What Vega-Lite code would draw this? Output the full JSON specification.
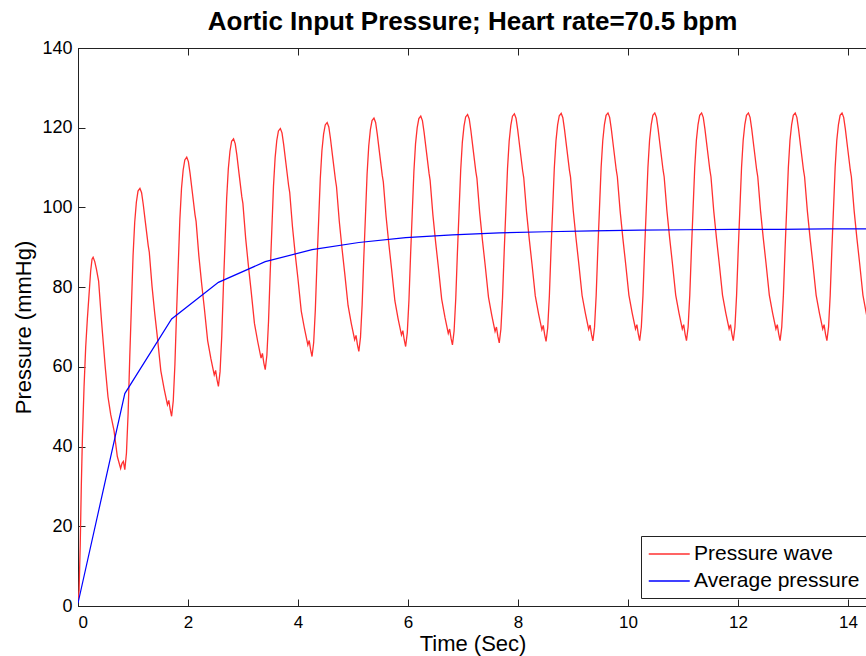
{
  "$schema": "https://vega.github.io/schema/vega-lite/v6.json",
  "autosize": {"type": "none"},
  "padding": {"left": 78, "top": 48, "right": 0, "bottom": 50},
  "width": 789,
  "height": 558,
  "background": "white",
  "config": {"view": {"stroke": "#222", "strokeWidth": 1}, "font": "Liberation Sans"},
  "title": {"text": "Aortic Input Pressure; Heart rate=70.5 bpm", "font": "Liberation Sans", "fontSize": 26, "fontWeight": "bold", "color": "#000", "anchor": "middle", "offset": 4},
  "datasets": {
    "wave": [
      {"t":0,"v":1},{"t":0.02,"v":4},{"t":0.04,"v":15},{"t":0.06,"v":30},{"t":0.08,"v":42},{"t":0.11,"v":55},{"t":0.14,"v":65},{"t":0.17,"v":72},{"t":0.2,"v":78},{"t":0.23,"v":84},{"t":0.255,"v":87},{"t":0.275,"v":87.5},
      {"t":0.305,"v":86.4},{"t":0.335,"v":84.5},{"t":0.375,"v":81.5},{"t":0.425,"v":72},{"t":0.445,"v":68.5},{"t":0.495,"v":60},{"t":0.545,"v":52.5},{"t":0.595,"v":48},{"t":0.655,"v":44},{"t":0.715,"v":37.5},{"t":0.775,"v":34.5},{"t":0.8,"v":35.8},{"t":0.825,"v":36.3},{"t":0.851,"v":34.2},
      {"t":0.881,"v":38.4},{"t":0.911,"v":48.3},{"t":0.941,"v":62.4},{"t":0.971,"v":75.2},{"t":1.001,"v":87.9},{"t":1.031,"v":96.3},{"t":1.061,"v":101.3},{"t":1.091,"v":104.1},{"t":1.126,"v":104.8},
      {"t":1.156,"v":103.7},{"t":1.186,"v":100.8},{"t":1.226,"v":96.2},{"t":1.276,"v":90.5},{"t":1.296,"v":88.8},{"t":1.346,"v":80.2},{"t":1.396,"v":73.3},{"t":1.446,"v":67.1},{"t":1.506,"v":59.0},{"t":1.566,"v":54.5},{"t":1.626,"v":50.5},{"t":1.651,"v":51.6},{"t":1.676,"v":49.3},{"t":1.702,"v":47.6},
      {"t":1.732,"v":51.5},{"t":1.762,"v":60.6},{"t":1.792,"v":73.6},{"t":1.822,"v":85.3},{"t":1.852,"v":97.0},{"t":1.882,"v":104.8},{"t":1.912,"v":109.4},{"t":1.942,"v":111.9},{"t":1.977,"v":112.6},
      {"t":2.007,"v":111.5},{"t":2.037,"v":108.6},{"t":2.077,"v":104.0},{"t":2.127,"v":98.2},{"t":2.147,"v":96.5},{"t":2.197,"v":87.9},{"t":2.247,"v":81.0},{"t":2.297,"v":74.7},{"t":2.357,"v":66.6},{"t":2.417,"v":62.0},{"t":2.477,"v":58.0},{"t":2.502,"v":59.1},{"t":2.527,"v":56.8},{"t":2.553,"v":55.1},
      {"t":2.583,"v":58.8},{"t":2.613,"v":67.5},{"t":2.643,"v":79.9},{"t":2.673,"v":91.1},{"t":2.703,"v":102.3},{"t":2.733,"v":109.7},{"t":2.763,"v":114.1},{"t":2.793,"v":116.6},{"t":2.828,"v":117.2},
      {"t":2.858,"v":116.0},{"t":2.888,"v":113.2},{"t":2.928,"v":108.5},{"t":2.978,"v":102.7},{"t":2.998,"v":101.0},{"t":3.048,"v":92.3},{"t":3.098,"v":85.4},{"t":3.148,"v":79.0},{"t":3.208,"v":70.9},{"t":3.268,"v":66.3},{"t":3.328,"v":62.2},{"t":3.353,"v":63.4},{"t":3.378,"v":61.0},{"t":3.404,"v":59.3},
      {"t":3.434,"v":62.9},{"t":3.464,"v":71.4},{"t":3.494,"v":83.5},{"t":3.524,"v":94.4},{"t":3.554,"v":105.3},{"t":3.584,"v":112.5},{"t":3.614,"v":116.8},{"t":3.644,"v":119.2},{"t":3.679,"v":119.8},
      {"t":3.709,"v":118.7},{"t":3.739,"v":115.8},{"t":3.779,"v":111.2},{"t":3.829,"v":105.5},{"t":3.849,"v":103.8},{"t":3.899,"v":95.2},{"t":3.949,"v":88.3},{"t":3.999,"v":82.1},{"t":4.059,"v":74.0},{"t":4.119,"v":69.5},{"t":4.179,"v":65.5},{"t":4.204,"v":66.6},{"t":4.229,"v":64.3},{"t":4.255,"v":62.6},
      {"t":4.285,"v":66.1},{"t":4.315,"v":74.3},{"t":4.345,"v":86.1},{"t":4.375,"v":96.6},{"t":4.405,"v":107.2},{"t":4.435,"v":114.3},{"t":4.465,"v":118.4},{"t":4.495,"v":120.7},{"t":4.53,"v":121.3},
      {"t":4.56,"v":120.2},{"t":4.59,"v":117.3},{"t":4.63,"v":112.7},{"t":4.68,"v":107.0},{"t":4.7,"v":105.2},{"t":4.75,"v":96.6},{"t":4.8,"v":89.7},{"t":4.85,"v":83.4},{"t":4.91,"v":75.4},{"t":4.97,"v":70.8},{"t":5.03,"v":66.8},{"t":5.055,"v":67.9},{"t":5.08,"v":65.6},{"t":5.106,"v":63.9},
      {"t":5.136,"v":67.4},{"t":5.166,"v":75.6},{"t":5.196,"v":87.3},{"t":5.226,"v":97.8},{"t":5.256,"v":108.4},{"t":5.286,"v":115.4},{"t":5.316,"v":119.5},{"t":5.346,"v":121.8},{"t":5.381,"v":122.4},
      {"t":5.411,"v":121.3},{"t":5.441,"v":118.4},{"t":5.481,"v":113.8},{"t":5.531,"v":108.1},{"t":5.551,"v":106.4},{"t":5.601,"v":97.8},{"t":5.651,"v":90.9},{"t":5.701,"v":84.6},{"t":5.761,"v":76.6},{"t":5.821,"v":72.0},{"t":5.881,"v":68.0},{"t":5.906,"v":69.1},{"t":5.931,"v":66.8},{"t":5.957,"v":65.1},
      {"t":5.987,"v":68.6},{"t":6.017,"v":76.7},{"t":6.047,"v":88.2},{"t":6.077,"v":98.6},{"t":6.107,"v":109.0},{"t":6.137,"v":116.0},{"t":6.167,"v":120.0},{"t":6.197,"v":122.3},{"t":6.232,"v":122.9},
      {"t":6.262,"v":121.8},{"t":6.292,"v":118.9},{"t":6.332,"v":114.3},{"t":6.382,"v":108.6},{"t":6.402,"v":106.8},{"t":6.452,"v":98.2},{"t":6.502,"v":91.3},{"t":6.552,"v":85.0},{"t":6.612,"v":77.0},{"t":6.672,"v":72.4},{"t":6.732,"v":68.4},{"t":6.757,"v":69.5},{"t":6.782,"v":67.2},{"t":6.808,"v":65.5},
      {"t":6.838,"v":69.0},{"t":6.868,"v":77.1},{"t":6.898,"v":88.6},{"t":6.928,"v":99.0},{"t":6.958,"v":109.4},{"t":6.988,"v":116.4},{"t":7.018,"v":120.4},{"t":7.048,"v":122.7},{"t":7.083,"v":123.3},
      {"t":7.113,"v":122.2},{"t":7.143,"v":119.3},{"t":7.183,"v":114.7},{"t":7.233,"v":109.0},{"t":7.253,"v":107.3},{"t":7.303,"v":98.7},{"t":7.353,"v":91.8},{"t":7.403,"v":85.5},{"t":7.463,"v":77.5},{"t":7.523,"v":72.9},{"t":7.583,"v":68.9},{"t":7.608,"v":70.0},{"t":7.633,"v":67.7},{"t":7.659,"v":66.0},
      {"t":7.689,"v":69.5},{"t":7.719,"v":77.5},{"t":7.749,"v":89.0},{"t":7.779,"v":99.4},{"t":7.809,"v":109.7},{"t":7.839,"v":116.6},{"t":7.869,"v":120.6},{"t":7.899,"v":122.9},{"t":7.934,"v":123.5},
      {"t":7.964,"v":122.4},{"t":7.994,"v":119.5},{"t":8.034,"v":114.9},{"t":8.084,"v":109.2},{"t":8.104,"v":107.5},{"t":8.154,"v":99.0},{"t":8.204,"v":92.1},{"t":8.254,"v":85.8},{"t":8.314,"v":77.8},{"t":8.374,"v":73.3},{"t":8.434,"v":69.3},{"t":8.459,"v":70.4},{"t":8.484,"v":68.1},{"t":8.51,"v":66.4},
      {"t":8.54,"v":69.8},{"t":8.57,"v":77.8},{"t":8.6,"v":89.3},{"t":8.63,"v":99.6},{"t":8.66,"v":109.9},{"t":8.69,"v":116.7},{"t":8.72,"v":120.7},{"t":8.75,"v":123.0},{"t":8.785,"v":123.6},
      {"t":8.815,"v":122.5},{"t":8.845,"v":119.6},{"t":8.885,"v":115.0},{"t":8.935,"v":109.3},{"t":8.955,"v":107.6},{"t":9.005,"v":99.1},{"t":9.055,"v":92.2},{"t":9.105,"v":85.9},{"t":9.165,"v":77.9},{"t":9.225,"v":73.4},{"t":9.285,"v":69.4},{"t":9.31,"v":70.5},{"t":9.335,"v":68.2},{"t":9.361,"v":66.5},
      {"t":9.391,"v":69.9},{"t":9.421,"v":77.9},{"t":9.451,"v":89.4},{"t":9.481,"v":99.7},{"t":9.511,"v":110.0},{"t":9.541,"v":116.8},{"t":9.571,"v":120.8},{"t":9.601,"v":123.1},{"t":9.636,"v":123.7},
      {"t":9.666,"v":122.6},{"t":9.696,"v":119.7},{"t":9.736,"v":115.1},{"t":9.786,"v":109.4},{"t":9.806,"v":107.7},{"t":9.856,"v":99.2},{"t":9.906,"v":92.3},{"t":9.956,"v":86.0},{"t":10.016,"v":78.0},{"t":10.076,"v":73.5},{"t":10.136,"v":69.5},{"t":10.161,"v":70.6},{"t":10.186,"v":68.3},{"t":10.212,"v":66.6},
      {"t":10.242,"v":70.0},{"t":10.272,"v":78.0},{"t":10.302,"v":89.4},{"t":10.332,"v":99.7},{"t":10.362,"v":110.0},{"t":10.392,"v":116.9},{"t":10.422,"v":120.8},{"t":10.452,"v":123.1},{"t":10.487,"v":123.7},
      {"t":10.517,"v":122.6},{"t":10.547,"v":119.7},{"t":10.587,"v":115.1},{"t":10.637,"v":109.4},{"t":10.657,"v":107.7},{"t":10.707,"v":99.2},{"t":10.757,"v":92.3},{"t":10.807,"v":86.0},{"t":10.867,"v":78.0},{"t":10.927,"v":73.5},{"t":10.987,"v":69.5},{"t":11.012,"v":70.6},{"t":11.037,"v":68.3},{"t":11.063,"v":66.6},
      {"t":11.093,"v":70.0},{"t":11.123,"v":78.0},{"t":11.153,"v":89.4},{"t":11.183,"v":99.7},{"t":11.213,"v":110.0},{"t":11.243,"v":116.9},{"t":11.273,"v":120.8},{"t":11.303,"v":123.1},{"t":11.338,"v":123.7},
      {"t":11.368,"v":122.6},{"t":11.398,"v":119.7},{"t":11.438,"v":115.1},{"t":11.488,"v":109.4},{"t":11.508,"v":107.7},{"t":11.558,"v":99.2},{"t":11.608,"v":92.3},{"t":11.658,"v":86.0},{"t":11.718,"v":78.0},{"t":11.778,"v":73.5},{"t":11.838,"v":69.5},{"t":11.863,"v":70.6},{"t":11.888,"v":68.3},{"t":11.914,"v":66.6},
      {"t":11.944,"v":70.0},{"t":11.974,"v":78.0},{"t":12.004,"v":89.4},{"t":12.034,"v":99.7},{"t":12.064,"v":110.0},{"t":12.094,"v":116.9},{"t":12.124,"v":120.8},{"t":12.154,"v":123.1},{"t":12.189,"v":123.7},
      {"t":12.219,"v":122.6},{"t":12.249,"v":119.7},{"t":12.289,"v":115.1},{"t":12.339,"v":109.4},{"t":12.359,"v":107.7},{"t":12.409,"v":99.2},{"t":12.459,"v":92.3},{"t":12.509,"v":86.0},{"t":12.569,"v":78.0},{"t":12.629,"v":73.5},{"t":12.689,"v":69.5},{"t":12.714,"v":70.6},{"t":12.739,"v":68.3},{"t":12.765,"v":66.6},
      {"t":12.795,"v":70.0},{"t":12.825,"v":78.0},{"t":12.855,"v":89.4},{"t":12.885,"v":99.7},{"t":12.915,"v":110.0},{"t":12.945,"v":116.9},{"t":12.975,"v":120.8},{"t":13.005,"v":123.1},{"t":13.04,"v":123.7},
      {"t":13.07,"v":122.6},{"t":13.1,"v":119.7},{"t":13.14,"v":115.1},{"t":13.19,"v":109.4},{"t":13.21,"v":107.7},{"t":13.26,"v":99.2},{"t":13.31,"v":92.3},{"t":13.36,"v":86.0},{"t":13.42,"v":78.0},{"t":13.48,"v":73.5},{"t":13.54,"v":69.5},{"t":13.565,"v":70.6},{"t":13.59,"v":68.3},{"t":13.616,"v":66.6},
      {"t":13.646,"v":70.0},{"t":13.676,"v":78.0},{"t":13.706,"v":89.4},{"t":13.736,"v":99.7},{"t":13.766,"v":110.0},{"t":13.796,"v":116.9},{"t":13.826,"v":120.8},{"t":13.856,"v":123.1},{"t":13.891,"v":123.7},
      {"t":13.921,"v":122.6},{"t":13.951,"v":119.7},{"t":13.991,"v":115.1},{"t":14.041,"v":109.4},{"t":14.061,"v":107.7},{"t":14.111,"v":99.2},{"t":14.161,"v":92.3},{"t":14.211,"v":86.0},{"t":14.271,"v":78.0},{"t":14.331,"v":73.5},{"t":14.391,"v":69.5}
    ],
    "avg": [
      {"t":0,"v":0.7},{"t":0.851,"v":53.3},{"t":1.702,"v":72.0},{"t":2.553,"v":81.2},{"t":3.404,"v":86.4},{"t":4.255,"v":89.4},{"t":5.106,"v":91.2},{"t":5.957,"v":92.4},{"t":6.808,"v":93.1},{"t":7.659,"v":93.6},{"t":8.51,"v":93.9},{"t":9.361,"v":94.1},{"t":10.212,"v":94.3},{"t":11.063,"v":94.4},{"t":11.914,"v":94.5},{"t":12.765,"v":94.5},{"t":13.616,"v":94.6},{"t":14.467,"v":94.6}
    ]
  },
  "resolve": {"axis": {"x": "independent"}},
  "layer": [
    {
      "data": {"name": "wave"},
      "mark": {"type": "line", "strokeWidth": 1.3, "clip": true},
      "encoding": {
        "x": {"field": "t", "type": "quantitative", "scale": {"domain": [0, 14.345], "nice": false, "zero": false},
              "axis": {"orient": "bottom", "values": [0,2,4,6,8,10,12,14], "title": "Time (Sec)", "grid": false, "tickSize": -7, "labelPadding": 15, "labelFontSize": 17, "labelColor": "#000", "titleFontSize": 22, "titleFontWeight": "normal", "titleColor": "#000", "titlePadding": 3, "domainColor": "#222", "tickColor": "#222", "labelFont": "Liberation Sans", "titleFont": "Liberation Sans"}},
        "y": {"field": "v", "type": "quantitative", "scale": {"domain": [0, 140], "nice": false},
              "axis": {"values": [0,20,40,60,80,100,120,140], "title": "Pressure (mmHg)", "grid": false, "tickSize": -7, "labelPadding": 13, "labelFontSize": 18, "labelColor": "#000", "titleFontSize": 22, "titleFontWeight": "normal", "titleColor": "#000", "titlePadding": 6, "domainColor": "#222", "tickColor": "#222", "labelFont": "Liberation Sans", "titleFont": "Liberation Sans"}},
        "color": {"datum": "Pressure wave", "type": "nominal",
                  "scale": {"domain": ["Pressure wave", "Average pressure"], "range": ["#ff3030", "#0000ff"]},
                  "legend": {"orient": "none", "legendX": 563, "legendY": 488, "title": null, "strokeColor": "#222", "fillColor": "white", "padding": 7, "symbolType": "M-1,0H3", "symbolSize": 420, "symbolStrokeWidth": 1.3, "labelFontSize": 21, "labelLimit": 400, "labelFont": "Liberation Sans", "labelColor": "#000", "rowPadding": 6, "labelOffset": 24}}
      }
    },
    {
      "data": {"name": "avg"},
      "mark": {"type": "line", "strokeWidth": 1.2, "clip": true},
      "encoding": {
        "x": {"field": "t", "type": "quantitative",
              "axis": {"orient": "top", "values": [0,2,4,6,8,10,12,14], "labels": false, "title": null, "grid": false, "tickSize": -7, "domainColor": "#222", "tickColor": "#222"}},
        "y": {"field": "v", "type": "quantitative"},
        "color": {"datum": "Average pressure", "type": "nominal"}
      }
    }
  ]
}
